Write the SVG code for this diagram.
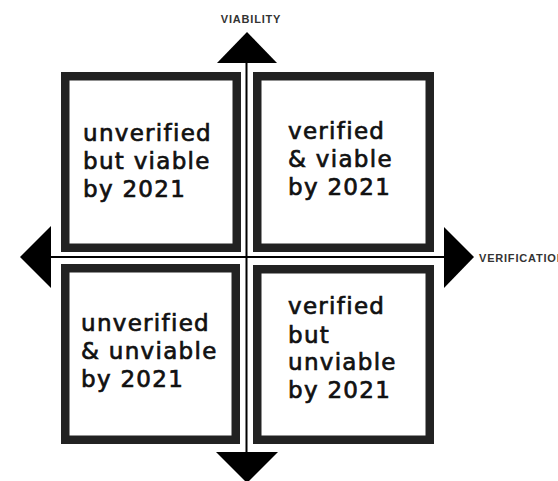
<svg xmlns="http://www.w3.org/2000/svg" width="558" height="481" viewBox="0 0 558 481">
  <style>
    .box { fill: #fff; stroke: #222; stroke-width: 8.5; }
    .lbl { font-family: "DejaVu Sans", "Liberation Sans", sans-serif; font-size: 23px; letter-spacing: 1.3px; fill: #111; stroke: #111; stroke-width: 0.7; }
    .axis { font-family: "Liberation Sans", "DejaVu Sans", sans-serif; font-weight: bold; font-size: 11px; fill: #333; letter-spacing: 0.8px; }
    .line { stroke: #000; stroke-width: 2; fill: none; }
    .head { fill: #000; }
  </style>
  <rect width="558" height="481" fill="#fff"/>

  <!-- axes -->
  <g id="connectors">
    <line class="line" x1="246.5" y1="60" x2="246.5" y2="455"/>
    <line class="line" x1="48" y1="257" x2="447" y2="257"/>
    <polygon class="head" points="247,32 217,63 277,63"/>
    <polygon class="head" points="216,452 278,452 247,483"/>
    <polygon class="head" points="20,257 51,226 51,288"/>
    <polygon class="head" points="444,227 444,288 474,257"/>
  </g>

  <g id="axis-viability">
    <text class="axis" x="251" y="23" text-anchor="middle">VIABILITY</text>
  </g>
  <g id="axis-verification">
    <text class="axis" x="479" y="262">VERIFICATION</text>
  </g>

  <g id="q-unverified-viable">
    <rect class="box" x="65.25" y="76.25" width="171.5" height="171.5"/>
    <text class="lbl" x="83" y="141">unverified</text>
    <text class="lbl" x="83" y="169">but viable</text>
    <text class="lbl" x="83" y="197">by 2021</text>
  </g>

  <g id="q-verified-viable">
    <rect class="box" x="257.25" y="76.25" width="172.5" height="171.5"/>
    <text class="lbl" x="288" y="139">verified</text>
    <text class="lbl" x="288" y="167">&amp; viable</text>
    <text class="lbl" x="288" y="195">by 2021</text>
  </g>

  <g id="q-unverified-unviable">
    <rect class="box" x="65.25" y="268.25" width="170.5" height="171.5"/>
    <text class="lbl" x="81" y="331">unverified</text>
    <text class="lbl" x="81" y="359">&amp; unviable</text>
    <text class="lbl" x="81" y="387">by 2021</text>
  </g>

  <g id="q-verified-unviable">
    <rect class="box" x="257.25" y="269.25" width="172.5" height="170.5"/>
    <text class="lbl" x="288" y="314">verified</text>
    <text class="lbl" x="288" y="343">but</text>
    <text class="lbl" x="288" y="370">unviable</text>
    <text class="lbl" x="288" y="398">by 2021</text>
  </g>
</svg>
